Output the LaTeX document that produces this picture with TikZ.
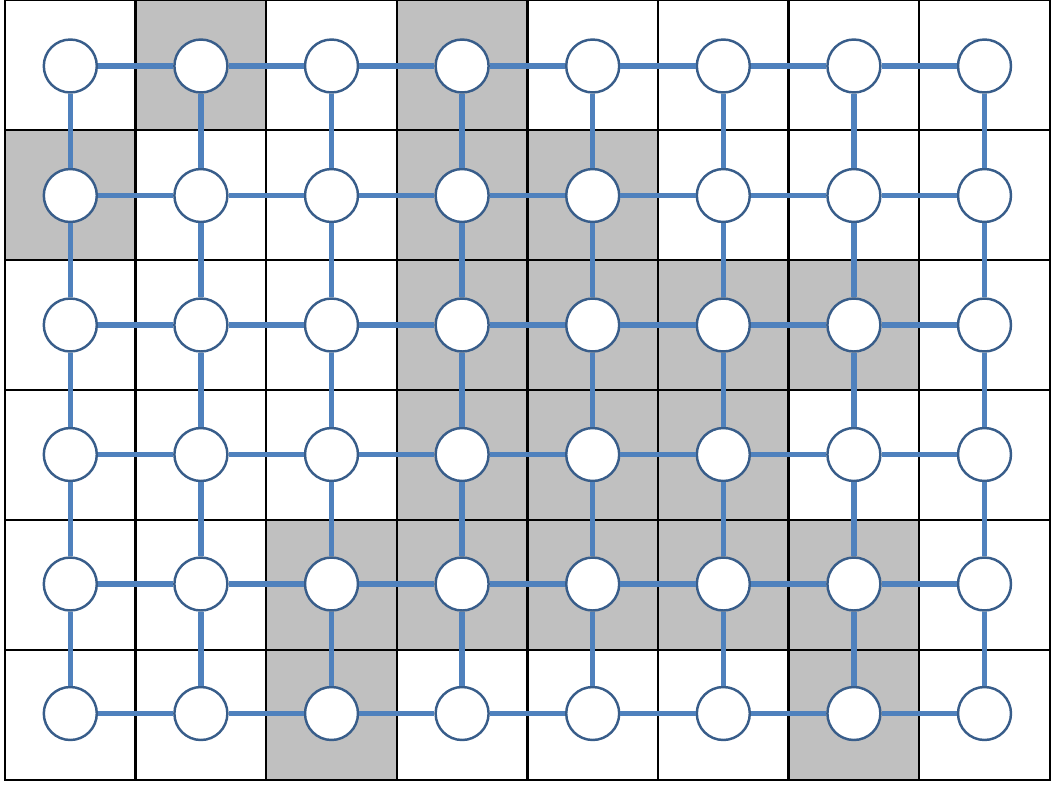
\documentclass[tikz,border=0pt]{standalone}
\usetikzlibrary{positioning}
\definecolor{linkblue}{HTML}{4F81BD}
\definecolor{ringblue}{HTML}{385D8A}
\definecolor{cellgray}{HTML}{C0C0C0}

\begin{document}
\begin{tikzpicture}[
    x=0.02cm, y=-0.02cm,
    cell/.style={draw=black, line width=1.3pt},
    shaded/.style={fill=cellgray},
    site/.style={draw=ringblue, fill=white, circle, line width=1.4pt, minimum size=1.06cm, inner sep=0pt},
    link/.style={draw=linkblue, line width=3pt}
]
\useasboundingbox (0,0) rectangle (1054,785);

% Shaded cells
\foreach \r/\c in {0/1, 0/3, 1/0, 1/3, 1/4, 2/3, 2/4, 2/5, 2/6,
                   3/3, 3/4, 3/5, 4/2, 4/3, 4/4, 4/5, 4/6, 5/2, 5/6}
    \fill[shaded] ({5+130.6*\c},{130*\r}) rectangle ++(130.6,130);

% Grid
\foreach \r in {0,...,5}
    \foreach \c in {0,...,7}
        \draw[cell] ({5+130.6*\c},{130*\r}) rectangle ++(130.6,130);

% Nodes
\foreach \r in {0,...,5}
    \foreach \c in {0,...,7}
        \node[site] (n-\r-\c) at ({70.3+130.6*\c},{66+129.5*\r}) {};

% Links
\foreach \r in {0,...,5}
    \foreach \c/\cc in {0/1, 1/2, 2/3, 3/4, 4/5, 5/6, 6/7}
        \draw[link] (n-\r-\c) -- (n-\r-\cc);
\foreach \r/\rr in {0/1, 1/2, 2/3, 3/4, 4/5}
    \foreach \c in {0,...,7}
        \draw[link] (n-\r-\c) -- (n-\rr-\c);

\end{tikzpicture}
\end{document}
